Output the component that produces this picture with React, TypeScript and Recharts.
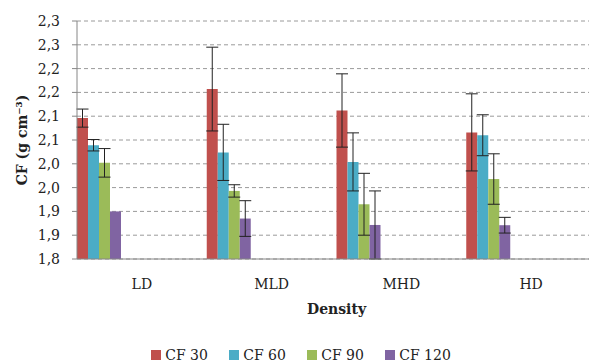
import React from "react";
import { BarChart, Bar, XAxis, YAxis, CartesianGrid, Legend, ErrorBar, Label } from "recharts";

// values
const categories = ["LD", "MLD", "MHD", "HD"];
const cf30    = [2.096, 2.157, 2.112, 2.066];
const cf30Err = [0.019, 0.088, 0.077, 0.081];
const cf60    = [2.039, 2.024, 2.004, 2.060];
const cf60Err = [0.012, 0.059, 0.061, 0.043];
const cf90    = [2.002, 1.943, 1.915, 1.968];
const cf90Err = [0.030, 0.013, 0.065, 0.053];
const cf120   = [1.900, 1.885, 1.8715, 1.871];
const cf120Err = [0, 0.0375, 0.0715, 0.0165];
const yTicks  = [1.8, 1.85, 1.9, 1.95, 2.0, 2.05, 2.1, 2.15, 2.2, 2.25, 2.3];
const minorTicks = [0, 1, 2];

const series = [
  { key: "cf30",  name: "CF 30",  color: "#C0504D" },
  { key: "cf60",  name: "CF 60",  color: "#4BACC6" },
  { key: "cf90",  name: "CF 90",  color: "#9BBB59" },
  { key: "cf120", name: "CF 120", color: "#8064A2" },
];
// empty slots so the four bars sit at the left of each band, like the source
const pads = ["p1", "p2", "p3", "p4", "p5", "p6", "p7", "p8"];

const data = categories.map((name, i) => ({
  name,
  cf30: cf30[i], cf30Err: cf30Err[i],
  cf60: cf60[i], cf60Err: cf60Err[i],
  cf90: cf90[i], cf90Err: cf90Err[i],
  cf120: cf120[i], cf120Err: cf120Err[i],
}));

const font = "'DejaVu Serif', serif";
const fmt = (v: number) => (Math.round(v * 10 + 1e-9) / 10).toFixed(1).replace(".", ",");

function LegendContent() {
  return (
    <div style={{ height: 39, paddingTop: 23, paddingLeft: 6, boxSizing: "border-box", display: "flex", justifyContent: "center", fontFamily: font, fontSize: 14, lineHeight: "17px", color: "#222" }}>
      {series.map((s, i) => (
        <div key={s.key} style={{ display: "flex", alignItems: "center", width: i < series.length - 1 ? 78 : undefined }}>
          <span style={{ width: 10, height: 10, background: s.color, marginRight: 4, display: "inline-block" }} />
          <span>{s.name}</span>
        </div>
      ))}
    </div>
  );
}

export default function App() {
  return (
    <div style={{ position: "absolute", left: 0, top: 0, width: 589, height: 363, overflow: "hidden", background: "#fff" }}>
      <BarChart width={600} height={363} data={data} margin={{ top: 21, right: 4, left: 0, bottom: 0 }} barCategoryGap={0} barGap={0}>
        <CartesianGrid vertical={false} stroke="#9a9a9a" strokeDasharray="4 3" />
        <XAxis xAxisId="m" type="number" domain={[0, 3]} ticks={minorTicks} height={0} axisLine={false} tick={false} tickSize={4} stroke="#868686" />
        <XAxis dataKey="name" height={65} tickLine={false} tickSize={0} tickMargin={20} axisLine={{ stroke: "#868686" }}
          tick={{ fontSize: 14, fill: "#222", fontFamily: font }}>
          <Label value="Density" position="insideBottom" offset={10} style={{ fontSize: 14, fontWeight: "bold", fill: "#222", fontFamily: font }} />
        </XAxis>
        <YAxis domain={[1.8, 2.3]} ticks={yTicks} width={77} tickFormatter={fmt} tickSize={5} tickMargin={12}
          axisLine={{ stroke: "#868686" }} tickLine={{ stroke: "#868686" }} interval={0}
          tick={{ fontSize: 14, fill: "#222", fontFamily: font }}>
          <Label value="CF (g cm⁻³)" angle={-90} position="insideLeft" offset={22}
            style={{ textAnchor: "middle", fontSize: 14, fontWeight: "bold", fill: "#222", fontFamily: font }} />
        </YAxis>
        <Legend verticalAlign="bottom" content={<LegendContent />} />
        {series.map(s => (
          <Bar key={s.key} dataKey={s.key} name={s.name} fill={s.color} isAnimationActive={false}>
            <ErrorBar dataKey={`${s.key}Err`} width={6} stroke="#222" strokeWidth={1} direction="y" />
          </Bar>
        ))}
        {pads.map(p => (
          <Bar key={p} dataKey={p} legendType="none" fill="transparent" isAnimationActive={false} />
        ))}
      </BarChart>
    </div>
  );
}
